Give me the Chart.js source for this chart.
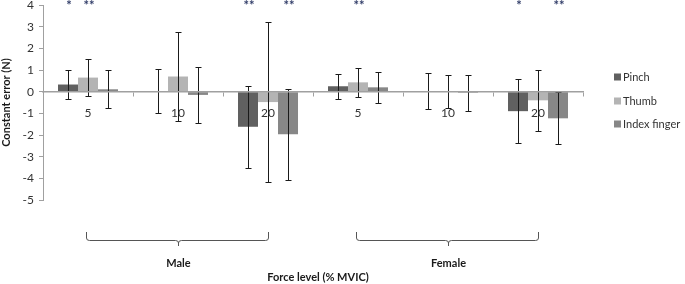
<!DOCTYPE html>
<html>
<head>
<meta charset="utf-8">
<script src="https://cdn.jsdelivr.net/npm/chart.js@4"></script>
<style>
html,body{margin:0;padding:0;background:#fff;}
#wrap{width:685px;height:284px;position:relative;}
</style>
</head>
<body>
<div id="wrap"><canvas id="c" width="685" height="284"></canvas></div>
<script>
const categories = ['5', '10', '20', '5', '10', '20'];
const groups = ['Male', 'Female'];
const seriesNames = ['Pinch', 'Thumb', 'Index finger'];
const pinch = [0.33, 0.03, -1.62, 0.25, 0.03, -0.9];
const pinchErr = [0.69, 1.0, 1.88, 0.57, 0.82, 1.47];
const thumb = [0.65, 0.7, -0.48, 0.43, 0.01, -0.4];
const thumbErr = [0.87, 2.05, 3.7, 0.68, 0.75, 1.4];
const indexF = [0.11, -0.15, -1.97, 0.2, -0.05, -1.23];
const indexErr = [0.87, 1.28, 2.1, 0.73, 0.82, 1.2];
const pinchStars = ['*', '', '**', '', '', '*'];
const thumbStars = ['**', '', '', '**', '', ''];
const indexStars = ['', '', '**', '', '', '**'];
const yTicks = [-5, -4, -3, -2, -1, 0, 1, 2, 3, 4];

const FONT = 'Lato, "Liberation Sans", sans-serif';
const colors = ['#606060', '#b4b4b4', '#878787'];

const extrasPlugin = {
  id: 'extras',
  afterDatasetsDraw(chart) {
    const ctx = chart.ctx;
    const y = chart.scales.y;
    const x = chart.scales.x;
    const ca = chart.chartArea;
    const errs = [pinchErr, thumbErr, indexErr];
    const stars = [pinchStars, thumbStars, indexStars];
    ctx.save();
    // error bars
    ctx.strokeStyle = '#1a1a1a';
    ctx.lineWidth = 1;
    chart.data.datasets.forEach((ds, di) => {
      const meta = chart.getDatasetMeta(di);
      meta.data.forEach((bar, i) => {
        const v = ds.data[i], e = errs[di][i];
        const bx = Math.round(bar.x) + 0.5;
        const yt = Math.round(y.getPixelForValue(v + e)) + 0.5;
        const yb = Math.round(y.getPixelForValue(v - e)) + 0.5;
        ctx.beginPath();
        ctx.moveTo(bx, yt); ctx.lineTo(bx, yb);
        ctx.moveTo(bx - 3, yt); ctx.lineTo(bx + 3, yt);
        ctx.moveTo(bx - 3, yb); ctx.lineTo(bx + 3, yb);
        ctx.stroke();
        // significance stars
        const s = stars[di][i];
        if (s) {
          ctx.fillStyle = '#2e3a66';
          ctx.font = 'bold 13px ' + FONT;
          ctx.textAlign = 'center';
          ctx.textBaseline = 'top';
          ctx.fillText(s, bar.x + 1, -1);
        }
      });
    });
    // brackets
    ctx.strokeStyle = '#555';
    ctx.lineWidth = 1;
    ctx.fillStyle = '#1a1a1a';
    ctx.font = 'bold 11px ' + FONT;
    ctx.textAlign = 'center';
    ctx.textBaseline = 'middle';
    groups.forEach((g, gi) => {
      const x1 = Math.round(x.getPixelForValue(gi * 3)) - 1.5;
      const x2 = Math.round(x.getPixelForValue(gi * 3 + 2)) + 0.5;
      const xm = Math.round((x1 + x2) / 2) + 0.5;
      ctx.beginPath();
      ctx.moveTo(x1, 232); ctx.lineTo(x1, 238);
      ctx.quadraticCurveTo(x1, 240.5, x1 + 3, 240.5);
      ctx.lineTo(xm - 3, 240.5);
      ctx.quadraticCurveTo(xm, 240.5, xm, 243);
      ctx.lineTo(xm, 246);
      ctx.moveTo(xm, 243);
      ctx.quadraticCurveTo(xm, 240.5, xm + 3, 240.5);
      ctx.lineTo(x2 - 3, 240.5);
      ctx.quadraticCurveTo(x2, 240.5, x2, 238);
      ctx.lineTo(x2, 232);
      ctx.stroke();
      ctx.fillText(g, xm, 263);
    });
    ctx.fillText('Force level (% MVIC)', (ca.left + ca.right) / 2 + 5, 277);
    // legend
    ctx.font = '11px ' + FONT;
    ctx.textAlign = 'left';
    const ly = [77, 101, 124];
    chart.data.datasets.forEach((ds, di) => {
      ctx.fillStyle = ds.backgroundColor;
      ctx.fillRect(614, ly[di] - 3.5, 7, 7);
      ctx.fillStyle = '#333';
      ctx.fillText(ds.label, 623, ly[di] + 0.5);
    });
    ctx.restore();
  }
};

new Chart(document.getElementById('c'), {
  type: 'bar',
  data: {
    labels: categories,
    datasets: [
      { label: seriesNames[0], data: pinch, backgroundColor: colors[0] },
      { label: seriesNames[1], data: thumb, backgroundColor: colors[1] },
      { label: seriesNames[2], data: indexF, backgroundColor: colors[2] }
    ]
  },
  options: {
    responsive: false,
    animation: false,
    devicePixelRatio: 1,
    layout: { padding: { left: 0, right: 102, top: 5, bottom: 84 } },
    datasets: { bar: { barPercentage: 1, categoryPercentage: 0.667 } },
    plugins: { legend: { display: false }, tooltip: { enabled: false } },
    scales: {
      x: {
        type: 'category',
        position: { y: 0 },
        grid: { drawOnChartArea: false, offset: true, tickLength: 4, color: '#a0a0a0' },
        border: { color: '#a0a0a0', width: 1.5, z: 1 },
        ticks: { color: '#333', font: { family: FONT, size: 12 }, padding: 10, maxRotation: 0 },
        afterFit: s => { s.paddingLeft = 0; s.paddingRight = 0; }
      },
      y: {
        min: -5, max: 4,
        afterBuildTicks: s => { s.ticks = yTicks.map(v => ({ value: v })); },
        afterFit: s => { s.width = 43; s.paddingTop = 0; s.paddingBottom = 0; },
        grid: { drawOnChartArea: false, tickLength: 4, color: '#a0a0a0' },
        border: { color: '#a0a0a0' },
        ticks: { color: '#333', font: { family: FONT, size: 12 }, padding: 5 },
        title: {
          display: true, text: 'Constant error (N)', color: '#1a1a1a',
          font: { family: FONT, size: 11, weight: 'bold' }, padding: { top: 0, bottom: 0 }
        }
      }
    }
  },
  plugins: [extrasPlugin]
});
</script>
</body>
</html>
